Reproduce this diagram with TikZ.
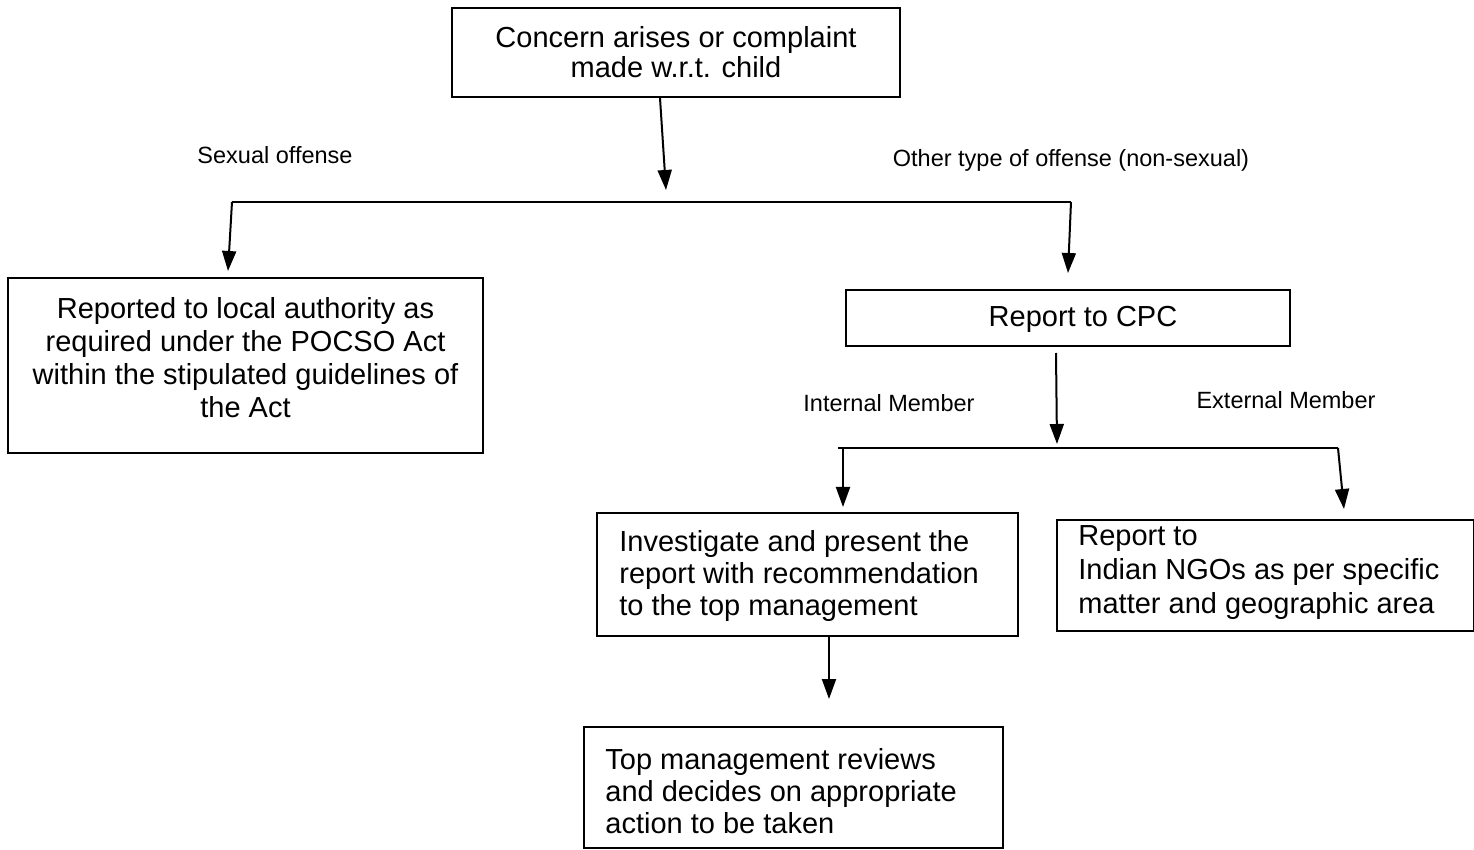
\documentclass[tikz,border=0pt]{standalone}
\usepackage{fontspec}
\setmainfont{Liberation Sans}
\usetikzlibrary{arrows.meta}
\begin{document}
\begin{tikzpicture}[x=0.5pt,y=-0.5pt,
  box/.style={draw, line width=1pt, inner sep=0pt},
  bigtext/.style={inner sep=0pt, font=\fontsize{14.5pt}{16pt}\selectfont},
  smalltext/.style={inner sep=0pt, font=\fontsize{11.75pt}{14pt}\selectfont},
  arr/.style={line width=1pt, -{Triangle[width=7pt,length=10pt]}},
  ln/.style={line width=1pt}]
\useasboundingbox (0,0) rectangle (1474,850);

% boxes
\node[box, align=center, minimum width=224pt, minimum height=44.5pt,
      font=\fontsize{14.5pt}{15pt}\selectfont] (A) at (676,52.5)
      {Concern arises or complaint\\made w.r.t. child};

\node[box, minimum width=237.5pt, minimum height=87.5pt] (B) at (245.5,365.5) {};
\node[bigtext, align=center, font=\fontsize{14.5pt}{16.5pt}\selectfont] (Bt) at (245.5,358)
      {Reported to local authority as\\required under the POCSO Act\\within the stipulated guidelines of\\the Act};

\node[box, minimum width=222pt, minimum height=28pt] (C) at (1068,318) {};
\node[bigtext] (Ct) at (1083,319) {Report to CPC};

\node[box, minimum width=210.5pt, minimum height=61.5pt] (D) at (807.5,574.5) {};
\node[bigtext, align=left, anchor=west] (Dt) at (619,576)
      {Investigate and present the\\report with recommendation\\to the top management};

\node[box, minimum width=208.5pt, minimum height=55.5pt] (E) at (1265.5,575.5) {};
\node[bigtext, align=left, anchor=west, font=\fontsize{14.5pt}{17pt}\selectfont] (Et) at (1078,573)
      {Report to\\Indian NGOs as per specific\\matter and geographic area};

\node[box, minimum width=209.5pt, minimum height=60.5pt] (F) at (793.5,787.5) {};
\node[bigtext, align=left, anchor=west] (Ft) at (605,791)
      {Top management reviews\\and decides on appropriate\\action to be taken};

% labels
\node[smalltext] (l1) at (275,155) {Sexual offense};
\node[smalltext] (l2) at (1071,160) {Other type of offense (non-sexual)};
\node[smalltext] (l3) at (889,403) {Internal Member};
\node[smalltext] (l4) at (1286,400) {External Member};

% junctions
\coordinate (j1) at (666,190);
\coordinate (hl) at (232,202);
\coordinate (hr) at (1071,202);
\coordinate (j2) at (1057,444);
\coordinate (h2l) at (838,448);
\coordinate (h2a) at (843,448);
\coordinate (h2r) at (1338,448);

% connectors
\draw[arr] ([xshift=-8pt]A.south) -- (j1);
\draw[ln] (hl) -- (hr);
\draw[arr] (hl) -- ([xshift=-8.75pt,yshift=3pt]B.north);
\draw[arr] (hr) -- ([yshift=8pt]C.north);
\draw[arr] ([xshift=-6pt,yshift=-3pt]C.south) -- (j2);
\draw[ln] (h2l) -- (h2r);
\draw[arr] (h2a) -- ([xshift=17.75pt,yshift=2.5pt]D.north);
\draw[arr] (h2r) -- ([xshift=39.25pt,yshift=5pt]E.north);
\draw[arr] ([xshift=10.75pt]D.south) -- ([xshift=17.75pt,yshift=13.5pt]F.north);
\end{tikzpicture}
\end{document}
